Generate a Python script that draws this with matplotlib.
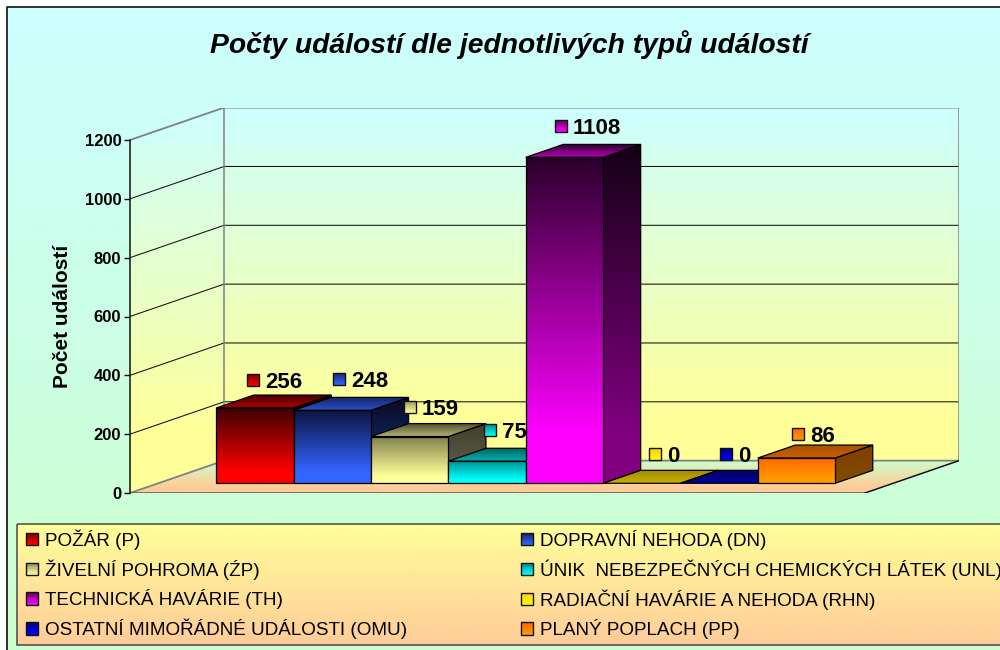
import numpy as np
import matplotlib
matplotlib.use("Agg")
import matplotlib.pyplot as plt
from matplotlib.colors import to_rgb
from matplotlib.patches import Polygon, Rectangle
from matplotlib.legend_handler import HandlerBase

plt.rcParams['font.family'] = ['Liberation Sans', 'DejaVu Sans']

# ---- data ----
title = "Počty událostí dle jednotlivých typů událostí"
y_label = "Počet událostí"
categories = ["POŽÁR (P)", "DOPRAVNÍ NEHODA (DN)", "ŽIVELNÍ POHROMA (ŹP)",
              "ÚNIK  NEBEZPEČNÝCH CHEMICKÝCH LÁTEK (UNL)", "TECHNICKÁ HAVÁRIE (TH)",
              "RADIAČNÍ HAVÁRIE A NEHODA (RHN)", "OSTATNÍ MIMOŘÁDNÉ UDÁLOSTI (OMU)",
              "PLANÝ POPLACH (PP)"]
values = [256, 248, 159, 75, 1108, 0, 0, 86]
y_ticks = [0, 200, 400, 600, 800, 1000, 1200]

# ---- styles ----
front_top = ['#3c0000', '#0c1440', '#7f7f4c', '#008c8c', '#2a002a', '#c8a000', '#000080', '#ff6600']
front_bot = ['#ff0000', '#3366ff', '#ffff99', '#00ffff', '#ff00ff', '#ffcc00', '#0000ff', '#ff9900']
roof_back = ['#4a0000', '#16246a', '#555530', '#006060', '#2a002a', '#a08a00', '#00005a', '#a85000']
roof_front = ['#a80000', '#2a50c0', '#b8b878', '#00b0b0', '#b800b8', '#c8b000', '#0000a0', '#c86000']
side_top = ['#1e0000', '#060a20', '#40402a', '#004646', '#150015', '#000000', '#000000', '#7f3c00']
side_bot = ['#800000', '#1a3380', '#60604a', '#008080', '#800080', '#000000', '#000000', '#7f4c00']
marker_top = ['#800000', '#16246a', '#8f8f5c', '#008c8c', '#600060', '#ffcc00', '#000080', '#ff6600']
marker_bot = ['#ff0000', '#3366ff', '#ffff99', '#00ffff', '#ff00ff', '#ffff00', '#0000ff', '#ff9900']
label_dx_px = [-20.7, -12.1, -18.5, -15.9, -22.3, -5.7, -12.1, -17.5]
label_dy_px = [15.2, 18.5, 16.7, 18.4, 18.6, 16.5, 16.5, 11.2]

W, H = 1000, 650
fig = plt.figure(figsize=(W / 100, H / 100), dpi=100, facecolor='white')


def ramp(stops, n=256):
    pos = [s[0] for s in stops]
    cols = np.array([to_rgb(s[1]) for s in stops])
    t = np.linspace(0, 1, n)
    return np.stack([np.interp(t, pos, cols[:, c]) for c in range(3)], axis=1)[:, None, :]


def grad_poly(axis, pts, stops, z, edge=None, lw=0.9):
    pts = np.asarray(pts, float)
    ext = (pts[:, 0].min(), pts[:, 0].max(), pts[:, 1].min(), pts[:, 1].max())
    if ext[2] == ext[3] or ext[0] == ext[1]:
        return
    im = axis.imshow(ramp(stops), extent=ext, aspect='auto', origin='upper',
                     interpolation='bilinear', zorder=z)
    clip = Polygon(pts, closed=True, transform=axis.transData)
    im.set_clip_path(clip)
    if edge:
        axis.add_patch(Polygon(pts, closed=True, fill=False, edgecolor=edge, lw=lw,
                               zorder=z + 0.01, joinstyle='miter'))


# ---- background axes in pixel units ----
bg = fig.add_axes([0, 0, 1, 1])
bg.set_autoscale_on(False)
bg.set_xlim(0, W)
bg.set_ylim(H, 0)
bg.axis('off')
bg.imshow(ramp([(0, '#ccffff'), (1, '#ccffcc')]), extent=(6, W, H, 6), aspect='auto',
          origin='upper', interpolation='bilinear', zorder=0)
bg.plot([6.5, 6.5, W], [H, 6.5, 6.5], color='#222222', lw=1.3, zorder=1)
bg.text(509, 44.5, title, ha='center', va='center', fontsize=20.3, fontweight='bold',
        fontstyle='italic', color='black', zorder=2)
# legend panel
bg.imshow(ramp([(0, '#ffff99'), (1, '#ffcc99')]), extent=(17, W + 5, 645, 524), aspect='auto',
          origin='upper', interpolation='bilinear', zorder=1)
bg.add_patch(Rectangle((17, 524), W, 121, fill=False, edgecolor='#555555', lw=1.2, zorder=1.5))
bg.set_xlim(0, W)
bg.set_ylim(H, 0)

# ---- chart axes: x in bar widths, y in event counts, plus an oblique depth ----
GAP = 0.75
DX = 1.215
DY = 110
n = len(values)
x_min, x_max = -GAP, n + GAP
px_per_x = (865 - 130) / (x_max - x_min)
px_per_v = (493 - 140) / 1200
ax_top = 493 - (1200 + DY) * px_per_v
ax = fig.add_axes([130 / W, 1 - 493 / H, (959 - 130) / W, (493 - ax_top) / H])
ax.patch.set_alpha(0)
ax.set_autoscale_on(False)
ax.set_xlim(x_min, x_max + DX)
ax.set_ylim(0, 1200 + DY)


def P(x, v, z):
    return (x + z * DX, v + z * DY)


v_top = max(y_ticks)
# walls and floor
wall_stops = [(0, '#ccffff'), (0.85, '#ffff99'), (1, '#ffff99')]
grad_poly(ax, [P(x_min, 0, 1), P(x_max, 0, 1), P(x_max, v_top, 1), P(x_min, v_top, 1)],
          [(0, '#ccffff'), (0.88, '#ffff99'), (1, '#ffff99')], 1)
grad_poly(ax, [P(x_min, 0, 0), P(x_min, 0, 1), P(x_min, v_top, 1), P(x_min, v_top, 0)],
          wall_stops, 1)
grad_poly(ax, [P(x_min, 0, 0), P(x_max, 0, 0), P(x_max, 0, 1), P(x_min, 0, 1)],
          [(0, '#ccffcc'), (0.8, '#ffcc99'), (1, '#ffcc99')], 1)

# grid
for v in y_ticks:
    c, w = ('#808080', 1.3) if v in (0, v_top) else ('#111111', 0.75)
    xs, ys = zip(P(x_min, v, 0), P(x_min, v, 1), P(x_max, v, 1))
    ax.plot(xs, ys, color=c, lw=w, zorder=2, solid_joinstyle='miter')
for p, q, c in [(P(x_min, 0, 1), P(x_min, v_top, 1), '#808080'),
                (P(x_max, 0, 1), P(x_max, v_top, 1), '#808080'),
                (P(x_min, 0, 0), P(x_max, 0, 0), '#555555'),
                (P(x_max, 0, 0), P(x_max, 0, 1), '#111111')]:
    ax.plot([p[0], q[0]], [p[1], q[1]], color=c, lw=1.1, zorder=2)

# bars (left to right: each next bar hides the side of the previous one)
Z0, Z1 = 0.3, 0.7
for i, v in enumerate(values):
    z = 3 + i
    grad_poly(ax, [P(i + 1, 0, Z0), P(i + 1, 0, Z1), P(i + 1, v, Z1), P(i + 1, v, Z0)],
              [(0, side_top[i]), (0.85, side_bot[i]), (1, side_bot[i])], z, 'black')
    grad_poly(ax, [P(i, v, Z0), P(i + 1, v, Z0), P(i + 1, v, Z1), P(i, v, Z1)],
              [(0, roof_back[i]), (1, roof_front[i])], z + 0.2, 'black')
    grad_poly(ax, [P(i, 0, Z0), P(i + 1, 0, Z0), P(i + 1, v, Z0), P(i, v, Z0)],
              [(0, front_top[i]), (0.85, front_bot[i]), (1, front_bot[i])], z + 0.4, 'black')

# data labels: small swatch + bold value
half_x, half_y = 6 / px_per_x, 6 / px_per_v
for i, v in enumerate(values):
    bx = P(i + 0.5, v, 0.5)[0]
    by = P(i + 0.5, v, Z1)[1]
    cx = bx + label_dx_px[i] / px_per_x
    cy = by + label_dy_px[i] / px_per_v
    pts = [(cx - half_x, cy - half_y), (cx + half_x, cy - half_y),
           (cx + half_x, cy + half_y), (cx - half_x, cy + half_y)]
    grad_poly(ax, pts, [(0, marker_top[i]), (1, marker_bot[i])], 20, '#111111', 1.0)
    ax.text(cx + 12 / px_per_x, cy, str(v), ha='left', va='center_baseline', fontsize=16,
            fontweight='bold', color='black', zorder=21)

# real axis
for s in ('top', 'right', 'bottom'):
    ax.spines[s].set_visible(False)
ax.spines['left'].set_bounds(0, v_top)
ax.spines['left'].set_linewidth(1.1)
ax.spines['left'].set_color('#111111')
ax.spines['left'].set_zorder(3)
ax.set_xticks([])
ax.set_yticks(y_ticks)
ax.tick_params(axis='y', length=4.3, width=1.0, pad=2, labelsize=12, color='#111111')
for t in ax.get_yticklabels():
    t.set_fontweight('bold')
ax.set_ylabel(y_label, fontsize=15, fontweight='bold')
ax.yaxis.set_label_coords((60 - 130) / (959 - 130) + 0.015, (493 - 316) / (493 - ax_top))
ax.set_xlim(x_min, x_max + DX)
ax.set_ylim(0, 1200 + DY)


# ---- legend ----
class Swatch:
    def __init__(self, top, bottom):
        self.top, self.bottom = top, bottom


class SwatchHandler(HandlerBase):
    def create_artists(self, legend, h, xd, yd, width, height, fontsize, trans):
        out = []
        s = ramp([(0, h.top), (1, h.bottom)], 8)[:, 0, :]
        for k, c in enumerate(s):
            out.append(Rectangle((-xd, -yd + height * (1 - (k + 1) / 8)), width, height / 8,
                                 facecolor=c, edgecolor='none', transform=trans))
        out.append(Rectangle((-xd, -yd), width, height, fill=False, edgecolor='#111111',
                             lw=1.0, transform=trans))
        return out


order = [0, 2, 4, 6, 1, 3, 5, 7]
handles = [Swatch(marker_top[i], marker_bot[i]) for i in order]
labels = [categories[i] for i in order]
fs = 13.57
fig.legend(handles, labels, handler_map={Swatch: SwatchHandler()}, ncols=2, frameon=False,
           loc='upper left', bbox_to_anchor=(26 / W, 1 - 529 / H), borderpad=0, borderaxespad=0,
           fontsize=fs, handlelength=0.64, handleheight=0.64, handletextpad=0.37,
           labelspacing=0.505, columnspacing=6.04)

fig.savefig('out.png', dpi=100, facecolor='white')
